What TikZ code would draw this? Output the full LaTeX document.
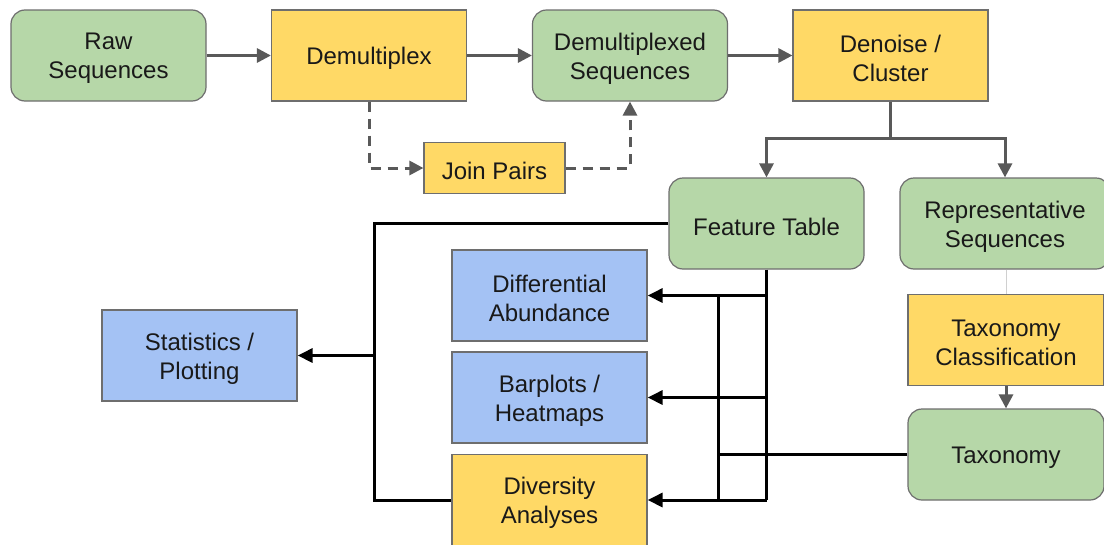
\documentclass[tikz,border=0pt]{standalone}
\usepackage{fontspec}
\setmainfont{Liberation Sans}
\usetikzlibrary{arrows.meta}
\definecolor{gfill}{HTML}{B6D7A8}
\definecolor{yfill}{HTML}{FFD966}
\definecolor{bfill}{HTML}{A4C2F4}
\definecolor{bordergray}{HTML}{6E6E6E}
\definecolor{arrowgray}{HTML}{595959}
\definecolor{faintgray}{HTML}{D0D0D0}
\begin{document}
\begin{tikzpicture}[x=1pt,y=-1pt,
  box/.style={draw=bordergray, line width=1.2pt, minimum width=195pt, minimum height=91pt, inner sep=0pt},
  txt/.style={label={[align=center, inner sep=0pt, yshift=-3pt, text=black!90, font=\fontsize{24}{29}\selectfont]center:#1}},
  greenbox/.style={box, fill=gfill, rounded corners=14pt},
  yellowbox/.style={box, fill=yfill},
  bluebox/.style={box, fill=bfill},
  garrow/.style={draw=arrowgray, line width=3pt, -{Triangle[length=14pt,width=14pt]}},
  gline/.style={draw=arrowgray, line width=3pt},
  gdash/.style={draw=arrowgray, line width=3pt, dash pattern=on 10pt off 7pt},
  gdasharrow/.style={gdash, -{Triangle[length=14pt,width=14pt]}},
  bline/.style={draw=black, line width=3pt},
  barrow/.style={bline, -{Triangle[length=15pt,width=14pt]}},
]
\useasboundingbox (0,0) rectangle (1104,544);
\fill[white] (0,0) rectangle (1104,544);

% nodes
\node[greenbox, txt={Raw\\Sequences}] (raw) at (108.5,55.5) {};
\node[yellowbox, txt={Demultiplex}] (demux) at (369,55.5) {};
\node[greenbox, txt={Demultiplexed\\Sequences}] (demuxd) at (630,55.5) {};
\node[yellowbox, txt={Denoise /\\Cluster}] (denoise) at (890.5,55.5) {};
\node[yellowbox, minimum width=141pt, minimum height=51pt, txt={Join Pairs}] (join) at (494.5,168) {};
\node[greenbox, txt={Feature Table}] (ft) at (766.5,223.5) {};
\node[greenbox, minimum width=210pt, txt={Representative\\Sequences}] (rep) at (1005,223.5) {};
\node[yellowbox, minimum width=196pt, txt={Taxonomy\\Classification}] (taxc) at (1006,340) {};
\node[greenbox, minimum width=196pt, txt={Taxonomy}] (tax) at (1006,454.5) {};
\node[bluebox, txt={Differential\\Abundance}] (diff) at (549.5,295.5) {};
\node[bluebox, txt={Barplots /\\Heatmaps}] (bar) at (549.5,397.5) {};
\node[yellowbox, txt={Diversity\\Analyses}] (div) at (549.5,500) {};
\node[bluebox, txt={Statistics /\\Plotting}] (stats) at (199.5,355.5) {};

% top row
\draw[garrow] (raw) -- (demux);
\draw[garrow] (demux) -- (demuxd);
\draw[garrow] (demuxd) -- (denoise);
\draw[gdasharrow] (demux.south) |- (join.west);
\draw[gdasharrow] (join.east) -| (demuxd.south);

% denoise split
\coordinate (split) at (890.5,138);
\draw[gline] (denoise.south) -- (split);
\draw[garrow] (split) -| (ft.north);
\draw[garrow] (split) -| (rep.north);

% taxonomy column
\draw[faintgray, line width=1pt] (rep.south -| taxc.north) -- (taxc.north);
\draw[garrow] (taxc.south) -- (tax.north);

% feature table to statistics / diversity
\coordinate (lt) at (374,223.5);
\coordinate (lb) at (374,500);
\coordinate (ls) at (374,355.5);
\draw[bline] (ft.west) -- (lt) -- (lb) -- (div.west);
\draw[barrow] (ls) -- (stats.east);

% feature table down to analyses
\coordinate (v1) at (766.5,295.5);
\coordinate (v2) at (766.5,397.5);
\coordinate (v3) at (766.5,500);
\coordinate (w1) at (718,295.5);
\coordinate (w3) at (718,500);
\coordinate (wt) at (718,454.5);
\draw[bline] (ft.south) -- (v3);
\draw[bline] (w1) -- (w3);
\draw[barrow] (v1) -- (diff.east);
\draw[barrow] (v2) -- (bar.east);
\draw[barrow] (v3) -- (div.east);
\draw[bline] (tax.west) -- (wt);
\end{tikzpicture}
\end{document}
